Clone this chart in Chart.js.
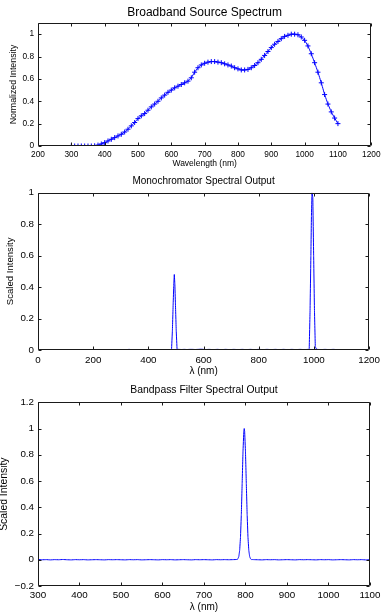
<!DOCTYPE html>
<html>
<head>
<meta charset="utf-8">
<script src="https://cdn.jsdelivr.net/npm/chart.js@4/dist/chart.umd.min.js"></script>
<style>
  html, body { margin: 0; padding: 0; background: #fff; }
  body { position: relative; width: 384px; height: 612px; overflow: hidden; }
  canvas { position: absolute; }
</style>
</head>
<body>
<canvas id="source-chart" width="384" height="172" style="left:0;top:0"></canvas>
<canvas id="mono-chart" width="384" height="210" style="left:0;top:170px"></canvas>
<canvas id="filter-chart" width="387" height="238" style="left:-3px;top:376px"></canvas>
<script>
// broadband source, sampled every 10 nm
const srcWavelength = [
  300, 310, 320, 330, 340, 350, 360, 370, 380, 390,
  400, 410, 420, 430, 440, 450, 460, 470, 480, 490,
  500, 510, 520, 530, 540, 550, 560, 570, 580, 590,
  600, 610, 620, 630, 640, 650, 660, 670, 680, 690,
  700, 710, 720, 730, 740, 750, 760, 770, 780, 790,
  800, 810, 820, 830, 840, 850, 860, 870, 880, 890,
  900, 910, 920, 930, 940, 950, 960, 970, 980, 990,
  1000, 1010, 1020, 1030, 1040, 1050, 1060, 1070, 1080, 1090,
  1100
];
const srcIntensity = [
  0, 0, 0, 0, 0, 0, 0, 0.002, 0.008, 0.018,
  0.03, 0.045, 0.06, 0.075, 0.09, 0.105, 0.125, 0.15, 0.18, 0.21,
  0.245, 0.27, 0.29, 0.32, 0.35, 0.375, 0.4, 0.43, 0.455, 0.48,
  0.5, 0.52, 0.535, 0.55, 0.565, 0.58, 0.61, 0.66, 0.7, 0.725,
  0.74, 0.75, 0.755, 0.755, 0.75, 0.745, 0.735, 0.725, 0.715, 0.7,
  0.69, 0.68, 0.68, 0.685, 0.7, 0.72, 0.745, 0.775, 0.81, 0.845,
  0.88, 0.91, 0.935, 0.96, 0.98, 0.99, 1.0, 1.0, 0.995, 0.975,
  0.945, 0.895, 0.825, 0.745, 0.66, 0.565, 0.46, 0.375, 0.305, 0.25,
  0.2
];

// monochromator output
const monoWavelength = [
  200, 210, 220, 230, 240, 250, 260, 270, 280, 290,
  300, 310, 320, 330, 340, 350, 360, 370, 380, 390,
  400, 410, 420, 430, 440, 450, 460, 470, 480,
  484, 487, 490, 492, 494, 496, 498, 501, 504,
  510, 520, 530, 540, 550, 560, 570, 580, 590,
  600, 610, 620, 630, 640, 650, 660, 670, 680, 690,
  700, 710, 720, 730, 740, 750, 760, 770, 780, 790,
  800, 810, 820, 830, 840, 850, 860, 870, 880, 890,
  900, 910, 920, 930, 940, 950, 960, 970, 980,
  983, 986, 989, 991, 993, 996, 999, 1002, 1005,
  1010, 1020, 1030, 1040, 1050, 1060, 1070, 1080, 1090, 1100
];
const monoIntensity = [
  0.003, 0.002, 0.003, 0.002, 0.003, 0.002, 0.003, 0.003, 0.002, 0.003,
  0.002, 0.003, 0.002, 0.004, 0.002, 0.003, 0.002, 0.003, 0.003, 0.002,
  0.003, 0.002, 0.003, 0.002, 0.003, 0.003, 0.002, 0.003, 0.003,
  0.004, 0.12, 0.3, 0.41, 0.48, 0.42, 0.3, 0.12, 0.004,
  0.004, 0.003, 0.004, 0.003, 0.004, 0.004, 0.003, 0.004, 0.005,
  0.004, 0.003, 0.004, 0.003, 0.003, 0.004, 0.003, 0.003, 0.004, 0.003,
  0.003, 0.004, 0.003, 0.003, 0.004, 0.003, 0.003, 0.004, 0.003, 0.003,
  0.004, 0.003, 0.003, 0.004, 0.003, 0.003, 0.004, 0.003, 0.003, 0.004,
  0.003, 0.003, 0.004, 0.003, 0.003, 0.004, 0.003, 0.003, 0.004,
  0.01, 0.25, 0.6, 0.85, 1.0, 0.97, 0.6, 0.25, 0.02,
  0.004, 0.003, 0.003, 0.004, 0.003, 0.003, 0.004, 0.003, 0.003, 0.003
];

// bandpass filter output
const filterWavelength = [
  300, 310, 320, 330, 340, 350, 360, 370, 380, 390,
  400, 410, 420, 430, 440, 450, 460, 470, 480, 490,
  500, 510, 520, 530, 540, 550, 560, 570, 580, 590,
  600, 610, 620, 630, 640, 650, 660, 670, 680, 690,
  700, 710, 720, 730, 740, 750, 760, 770, 780,
  782, 784, 786, 788, 790, 792, 794, 796, 797, 798,
  800, 802, 804, 806, 808, 810, 812, 814,
  820, 830, 840, 850, 860, 870, 880, 890,
  900, 910, 920, 930, 940, 950, 960, 970, 980, 990,
  1000, 1010, 1020, 1030, 1040, 1050, 1060, 1070, 1080, 1090,
  1100
];
const filterIntensity = [
  0.002, 0, 0.001, -0.001, 0.001, 0, 0.002, 0, -0.001, 0.001,
  0, 0.001, -0.001, 0, 0.001, 0, -0.001, 0.001, 0, 0.001,
  0, -0.001, 0.001, 0, 0.001, -0.001, 0, 0.001, 0, -0.001,
  0.001, 0, 0.001, -0.001, 0, 0.001, 0, -0.001, 0.001, 0,
  0.001, 0, -0.001, 0.001, 0, 0.001, 0, 0.001, 0.002,
  0.008, 0.026, 0.072, 0.172, 0.345, 0.581, 0.823, 0.979, 1.0, 0.979,
  0.823, 0.581, 0.345, 0.172, 0.072, 0.026, 0.008, 0.002,
  0.001, 0, -0.001, 0.001, 0, 0.001, -0.001, 0,
  0.001, 0, -0.001, 0.001, 0, 0.001, 0, -0.001, 0.001, 0,
  0.001, -0.001, 0, 0.001, 0, -0.001, 0.001, 0, 0.001, -0.001,
  0
];

// tick labels
const srcXTicks = [200, 300, 400, 500, 600, 700, 800, 900, 1000, 1100, 1200];
const srcYTicks = [0, 0.2, 0.4, 0.6, 0.8, 1];
const monoXTicks = [0, 200, 400, 600, 800, 1000, 1200];
const monoYTicks = [0, 0.2, 0.4, 0.6, 0.8, 1];
const filterXTicks = [300, 400, 500, 600, 700, 800, 900, 1000, 1100];
const filterYTicks = [-0.2, 0, 0.2, 0.4, 0.6, 0.8, 1, 1.2];

const FONT = "'Liberation Sans', Arial, Helvetica, sans-serif";
const LINE = "#0000ff";

// matlab style box with inward tick marks
const boxTicks = {
  id: "boxTicks",
  afterDatasetsDraw(chart) {
    const { ctx, chartArea: a, scales } = chart;
    const l = Math.round(a.left) + 0.5;
    const r = Math.round(a.right) - 0.5;
    const t = Math.round(a.top) + 0.5;
    const b = Math.round(a.bottom) - 0.5;
    const len = 3;
    ctx.save();
    ctx.strokeStyle = "#1a1a1a";
    ctx.lineWidth = 1;
    ctx.beginPath();
    ctx.rect(l, t, r - l, b - t);
    scales.x.ticks.forEach((tk) => {
      const px = Math.round(scales.x.getPixelForValue(tk.value)) + 0.5;
      ctx.moveTo(px, b);
      ctx.lineTo(px, b - len);
      ctx.moveTo(px, t);
      ctx.lineTo(px, t + len);
    });
    scales.y.ticks.forEach((tk) => {
      const py = Math.round(scales.y.getPixelForValue(tk.value)) + 0.5;
      ctx.moveTo(l, py);
      ctx.lineTo(l + len, py);
      ctx.moveTo(r, py);
      ctx.lineTo(r - len, py);
    });
    ctx.stroke();
    ctx.restore();
  },
};

function label(v) {
  return String(v).replace("-", "\u2212");
}

function makeChart(id, cfg) {
  return new Chart(document.getElementById(id), {
    type: "line",
    data: {
      datasets: [
        {
          data: cfg.xs.map((x, i) => ({ x: x, y: cfg.ys[i] })),
          borderColor: LINE,
          backgroundColor: LINE,
          borderWidth: 1,
          // tiny tension keeps chart.js off its pixel-binning fast path
          tension: 0.001,
          fill: false,
          pointStyle: cfg.marker ? "cross" : false,
          pointRadius: cfg.marker ? 2.5 : 0,
          pointBorderWidth: 1,
          pointBorderColor: LINE,
        },
      ],
    },
    options: {
      responsive: false,
      animation: false,
      events: [],
      layout: { padding: { left: 0, right: cfg.padRight, top: 0, bottom: 0 } },
      plugins: {
        legend: { display: false },
        tooltip: { enabled: false },
        title: {
          display: true,
          text: cfg.title,
          fullSize: false,
          color: "#000",
          font: { family: FONT, size: cfg.titleSize, weight: "normal" },
          padding: cfg.titlePad,
        },
      },
      scales: {
        x: {
          type: "linear",
          min: cfg.xTicks[0],
          max: cfg.xTicks[cfg.xTicks.length - 1],
          afterFit: (s) => { s.height = cfg.xHeight; },
          afterBuildTicks: (s) => { s.ticks = cfg.xTicks.map((v) => ({ value: v })); },
          grid: { display: false, drawTicks: false },
          border: { display: false },
          ticks: {
            color: "#000",
            padding: cfg.xTickPad,
            maxRotation: 0,
            font: { family: FONT, size: cfg.tickSize },
            callback: label,
          },
          title: {
            display: true,
            text: cfg.xTitle,
            color: "#000",
            font: { family: FONT, size: cfg.xTitleSize },
            padding: { top: 0, bottom: cfg.xTitlePad },
          },
        },
        y: {
          type: "linear",
          min: cfg.yMin,
          max: cfg.yMax,
          afterFit: (s) => { s.width = cfg.yWidth; },
          afterBuildTicks: (s) => { s.ticks = cfg.yTicks.map((v) => ({ value: v })); },
          grid: { display: false, drawTicks: false },
          border: { display: false },
          ticks: {
            color: "#000",
            padding: 4,
            font: { family: FONT, size: cfg.tickSize },
            callback: label,
          },
          title: {
            display: true,
            text: cfg.yTitle,
            color: "#000",
            font: { family: FONT, size: cfg.yTitleSize },
            padding: { top: cfg.yTitlePad, bottom: 0 },
          },
        },
      },
    },
    plugins: [boxTicks],
  });
}

makeChart("source-chart", {
  xs: srcWavelength, ys: srcIntensity, marker: true,
  title: "Broadband Source Spectrum", titleSize: 12, titlePad: { top: 5, bottom: 3.6 },
  xTicks: srcXTicks, yTicks: srcYTicks, yMin: 0, yMax: 1.1,
  xTitle: "Wavelength (nm)", yTitle: "Normalized Intensity",
  tickSize: 8.3, xTitleSize: 8.5, yTitleSize: 8.8, xTitlePad: 3.5, yTitlePad: 8.7,
  xHeight: 26, yWidth: 38, xTickPad: 3.5, padRight: 11,
});

makeChart("mono-chart", {
  xs: monoWavelength, ys: monoIntensity, marker: false,
  title: "Monochromator Spectral Output", titleSize: 10, titlePad: { top: 5, bottom: 5.7 },
  xTicks: monoXTicks, yTicks: monoYTicks, yMin: 0, yMax: 1,
  xTitle: "\u03bb (nm)", yTitle: "Scaled Intensity",
  tickSize: 9.8, xTitleSize: 10, yTitleSize: 9.6, xTitlePad: 3, yTitlePad: 4.2,
  xHeight: 30, yWidth: 38, xTickPad: 4, padRight: 11,
});

makeChart("filter-chart", {
  xs: filterWavelength, ys: filterIntensity, marker: false,
  title: "Bandpass Filter Spectral Output", titleSize: 10.4, titlePad: { top: 7.8, bottom: 6 },
  xTicks: filterXTicks, yTicks: filterYTicks, yMin: -0.2, yMax: 1.2,
  xTitle: "\u03bb (nm)", yTitle: "Scaled Intensity",
  tickSize: 9.8, xTitleSize: 10, yTitleSize: 10.4, xTitlePad: 1, yTitlePad: 0.8,
  xHeight: 28, yWidth: 41, xTickPad: 3.5, padRight: 11,
});
</script>
</body>
</html>
